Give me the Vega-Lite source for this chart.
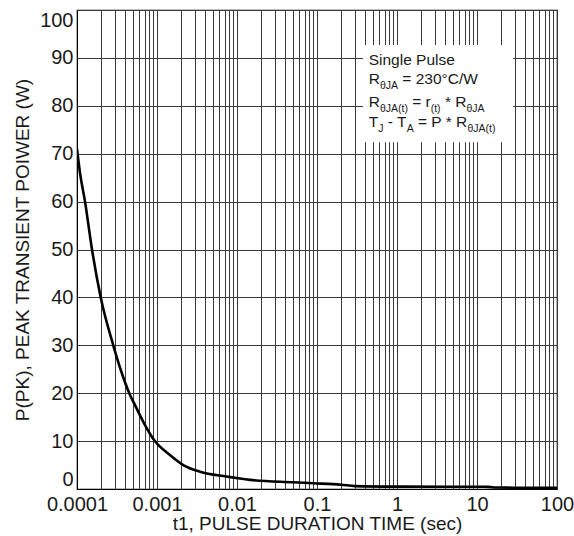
{
  "$schema": "https://vega.github.io/schema/vega-lite/v6.json",
  "width": 480,
  "height": 479,
  "autosize": "none",
  "padding": {"left": 77, "top": 10, "right": 17, "bottom": 47},
  "background": "white",
  "config": {
    "font": "Liberation Sans",
    "view": {"stroke": "black", "strokeWidth": 1.2},
    "axis": {
      "domainColor": "black",
      "ticks": false,
      "gridColor": "#3a3a3a",
      "gridOpacity": 1,
      "gridWidth": 1,
      "labelFont": "Liberation Sans",
      "labelFontSize": 20,
      "labelColor": "#1a1a1a",
      "labelFlush": false,
      "titleFont": "Liberation Sans",
      "titleFontSize": 19,
      "titleFontWeight": "normal",
      "titleColor": "#1a1a1a"
    }
  },
  "datasets": {
    "curve": [
      {"t": 0.0001, "p": 71},
      {"t": 0.000109, "p": 66},
      {"t": 0.000126, "p": 60},
      {"t": 0.000154, "p": 50},
      {"t": 0.000198, "p": 40},
      {"t": 0.000284, "p": 30},
      {"t": 0.00035, "p": 25},
      {"t": 0.00045, "p": 20},
      {"t": 0.00055, "p": 17},
      {"t": 0.0007, "p": 13.5},
      {"t": 0.00094, "p": 10},
      {"t": 0.00145, "p": 7.1},
      {"t": 0.00213, "p": 5.0},
      {"t": 0.00345, "p": 3.6},
      {"t": 0.0074, "p": 2.6},
      {"t": 0.0145, "p": 1.9},
      {"t": 0.05, "p": 1.4},
      {"t": 0.09, "p": 1.2},
      {"t": 0.2, "p": 0.9},
      {"t": 0.3, "p": 0.6},
      {"t": 1, "p": 0.5},
      {"t": 14, "p": 0.45},
      {"t": 17, "p": 0.3},
      {"t": 100, "p": 0.25}
    ],
    "box": [
      {"t1": 0.376, "t2": 28.2, "p1": 72.4, "p2": 92.7}
    ],
    "notes": [
      {"t": 0.4429, "p": 88.5, "txt": "Single Pulse", "kind": "main"},
      {"t": 0.4429, "p": 84.55, "txt": "R", "kind": "main"},
      {"t": 0.6113, "p": 83.6, "txt": "θJA", "kind": "sub"},
      {"t": 1.165, "p": 84.55, "txt": "= 230°C/W", "kind": "main"},
      {"t": 0.4429, "p": 79.8, "txt": "R", "kind": "main"},
      {"t": 0.6113, "p": 78.8, "txt": "θJA(t)", "kind": "sub"},
      {"t": 1.549, "p": 79.8, "txt": "= r", "kind": "main"},
      {"t": 2.638, "p": 78.8, "txt": "(t)", "kind": "sub"},
      {"t": 3.970, "p": 79.8, "txt": "* R", "kind": "main"},
      {"t": 7.370, "p": 78.8, "txt": "θJA", "kind": "sub"},
      {"t": 0.4429, "p": 75.6, "txt": "T", "kind": "main"},
      {"t": 0.5821, "p": 74.6, "txt": "J", "kind": "sub"},
      {"t": 0.7674, "p": 75.6, "txt": "- T", "kind": "main"},
      {"t": 1.322, "p": 74.6, "txt": "A", "kind": "sub"},
      {"t": 1.830, "p": 75.6, "txt": "= P * R", "kind": "main"},
      {"t": 7.607, "p": 74.6, "txt": "θJA(t)", "kind": "sub"}
    ]
  },
  "layer": [
    {
      "data": {"name": "curve"},
      "mark": {"type": "line", "color": "black", "strokeWidth": 2.6, "interpolate": "monotone", "clip": true},
      "encoding": {
        "x": {
          "field": "t",
          "type": "quantitative",
          "scale": {"type": "log", "domain": [0.0001, 100], "nice": false},
          "axis": {
            "title": "t1, PULSE DURATION TIME (sec)",
            "values": [0.0001,0.0002,0.0003,0.0004,0.0005,0.0006,0.0007,0.0008,0.0009,
                       0.001,0.002,0.003,0.004,0.005,0.006,0.007,0.008,0.009,
                       0.01,0.02,0.03,0.04,0.05,0.06,0.07,0.08,0.09,
                       0.1,0.2,0.3,0.4,0.5,0.6,0.7,0.8,0.9,
                       1,2,3,4,5,6,7,8,9,
                       10,20,30,40,50,60,70,80,90,100],
            "format": "~g",
            "labelExpr": "abs(log(datum.value)/LN10 - round(log(datum.value)/LN10)) < 0.000001 ? datum.label : ''",
            "labelOverlap": false,
            "labelPadding": 5,
            "titlePadding": 0,
            "grid": true
          }
        },
        "y": {
          "field": "p",
          "type": "quantitative",
          "scale": {"domain": [0, 100], "nice": false},
          "axis": {
            "title": "P(PK), PEAK TRANSIENT POIWER (W)",
            "values": [0,10,20,30,40,50,60,70,80,90,100],
            "labelFlush": true,
            "labelPadding": 4,
            "titlePadding": 7,
            "grid": true
          }
        }
      }
    },
    {
      "data": {"name": "box"},
      "mark": {"type": "rect", "fill": "white", "stroke": null},
      "encoding": {
        "x": {"field": "t1", "type": "quantitative"},
        "x2": {"field": "t2"},
        "y": {"field": "p1", "type": "quantitative"},
        "y2": {"field": "p2"}
      }
    },
    {
      "data": {"name": "notes"},
      "transform": [{"filter": "datum.kind === 'main'"}],
      "mark": {"type": "text", "align": "left", "baseline": "alphabetic", "fontSize": 15.5, "color": "#1a1a1a", "font": "Liberation Sans"},
      "encoding": {
        "x": {"field": "t", "type": "quantitative"},
        "y": {"field": "p", "type": "quantitative"},
        "text": {"field": "txt"}
      }
    },
    {
      "data": {"name": "notes"},
      "transform": [{"filter": "datum.kind === 'sub'"}],
      "mark": {"type": "text", "align": "left", "baseline": "alphabetic", "fontSize": 10.5, "color": "#1a1a1a", "font": "Liberation Sans"},
      "encoding": {
        "x": {"field": "t", "type": "quantitative"},
        "y": {"field": "p", "type": "quantitative"},
        "text": {"field": "txt"}
      }
    }
  ]
}
